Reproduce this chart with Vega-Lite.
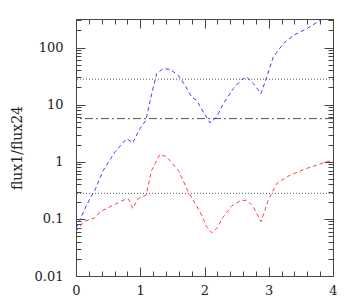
{
  "$schema": "https://vega.github.io/schema/vega-lite/v6.json",
  "width": 257,
  "height": 257,
  "autosize": "none",
  "padding": {"left": 76, "top": 19, "right": 18, "bottom": 27},
  "background": "white",
  "config": {
    "view": {"stroke": null},
    "axis": {
      "labelFont": "DejaVu Serif",
      "labelFontSize": 13,
      "labelColor": "#222",
      "titleFont": "DejaVu Serif",
      "titleFontSize": 14,
      "titleFontWeight": "normal",
      "titleColor": "#222",
      "domainColor": "#444",
      "tickColor": "#444",
      "grid": false,
      "labelOverlap": false,
      "labelFlush": false
    }
  },
  "datasets": {
    "curves": [
      {"s": "blue", "x": 0, "y": 0.068},
      {"s": "blue", "x": 0.06, "y": 0.095},
      {"s": "blue", "x": 0.14, "y": 0.152},
      {"s": "blue", "x": 0.218, "y": 0.228},
      {"s": "blue", "x": 0.296, "y": 0.32},
      {"s": "blue", "x": 0.425, "y": 0.71},
      {"s": "blue", "x": 0.607, "y": 1.49},
      {"s": "blue", "x": 0.789, "y": 2.55},
      {"s": "blue", "x": 0.882, "y": 2.14},
      {"s": "blue", "x": 0.996, "y": 3.82},
      {"s": "blue", "x": 1.089, "y": 5.34},
      {"s": "blue", "x": 1.178, "y": 15.6},
      {"s": "blue", "x": 1.256, "y": 35},
      {"s": "blue", "x": 1.359, "y": 42.8},
      {"s": "blue", "x": 1.463, "y": 41.6},
      {"s": "blue", "x": 1.592, "y": 32.7},
      {"s": "blue", "x": 1.697, "y": 21.8},
      {"s": "blue", "x": 1.801, "y": 13.6},
      {"s": "blue", "x": 1.879, "y": 11.9},
      {"s": "blue", "x": 1.981, "y": 7.45},
      {"s": "blue", "x": 2.086, "y": 4.79},
      {"s": "blue", "x": 2.19, "y": 6.1},
      {"s": "blue", "x": 2.293, "y": 10.4},
      {"s": "blue", "x": 2.448, "y": 19.1},
      {"s": "blue", "x": 2.579, "y": 27.5},
      {"s": "blue", "x": 2.657, "y": 30.5},
      {"s": "blue", "x": 2.76, "y": 23.4},
      {"s": "blue", "x": 2.879, "y": 15.6},
      {"s": "blue", "x": 2.968, "y": 30.5},
      {"s": "blue", "x": 3.071, "y": 68.2},
      {"s": "blue", "x": 3.226, "y": 117},
      {"s": "blue", "x": 3.382, "y": 163},
      {"s": "blue", "x": 3.591, "y": 214},
      {"s": "blue", "x": 3.798, "y": 299},
      {"s": "blue", "x": 4.0, "y": 390},
      {"s": "red", "x": 0, "y": 0.06},
      {"s": "red", "x": 0.114, "y": 0.089},
      {"s": "red", "x": 0.218, "y": 0.098},
      {"s": "red", "x": 0.296, "y": 0.104},
      {"s": "red", "x": 0.374, "y": 0.133},
      {"s": "red", "x": 0.581, "y": 0.174},
      {"s": "red", "x": 0.736, "y": 0.213},
      {"s": "red", "x": 0.82, "y": 0.222},
      {"s": "red", "x": 0.882, "y": 0.152},
      {"s": "red", "x": 0.97, "y": 0.228},
      {"s": "red", "x": 1.089, "y": 0.26},
      {"s": "red", "x": 1.178, "y": 0.71},
      {"s": "red", "x": 1.307, "y": 1.36},
      {"s": "red", "x": 1.411, "y": 1.22},
      {"s": "red", "x": 1.592, "y": 0.71},
      {"s": "red", "x": 1.748, "y": 0.298},
      {"s": "red", "x": 1.93, "y": 0.133},
      {"s": "red", "x": 2.034, "y": 0.073},
      {"s": "red", "x": 2.112, "y": 0.057},
      {"s": "red", "x": 2.19, "y": 0.068},
      {"s": "red", "x": 2.293, "y": 0.109},
      {"s": "red", "x": 2.423, "y": 0.167},
      {"s": "red", "x": 2.553, "y": 0.207},
      {"s": "red", "x": 2.657, "y": 0.213},
      {"s": "red", "x": 2.76, "y": 0.163},
      {"s": "red", "x": 2.879, "y": 0.089},
      {"s": "red", "x": 2.993, "y": 0.213},
      {"s": "red", "x": 3.124, "y": 0.418},
      {"s": "red", "x": 3.331, "y": 0.583},
      {"s": "red", "x": 3.591, "y": 0.764},
      {"s": "red", "x": 3.849, "y": 0.957},
      {"s": "red", "x": 4.0, "y": 1.07}
    ],
    "hlines": [
      {"y": 28, "style": "dot"},
      {"y": 5.7, "style": "dashdot"},
      {"y": 0.28, "style": "dot"}
    ]
  },
  "resolve": {"axis": {"x": "independent", "y": "independent"}},
  "layer": [
    {
      "data": {"name": "hlines"},
      "mark": {"type": "rule", "color": "#555", "strokeWidth": 1},
      "encoding": {
        "y": {"field": "y", "type": "quantitative", "axis": null,
              "scale": {"type": "log", "domain": [0.01, 316], "nice": false}},
        "strokeDash": {"field": "style", "type": "nominal", "legend": null,
              "scale": {"domain": ["dot", "dashdot"], "range": [[1, 2], [8, 3, 2, 3]]}}
      }
    },
    {
      "data": {"name": "curves"},
      "mark": {"type": "line", "strokeWidth": 1, "strokeDash": [4, 3], "clip": true},
      "encoding": {
        "x": {"field": "x", "type": "quantitative",
              "scale": {"domain": [0, 4], "nice": false, "zero": false},
              "axis": {"orient": "bottom", "title": null, "format": "d",
                       "values": [0, 1, 2, 3, 4], "tickSize": -9, "labelPadding": 17}},
        "y": {"field": "y", "type": "quantitative",
              "scale": {"type": "log", "domain": [0.01, 316], "nice": false},
              "axis": {"orient": "left", "title": "flux1/flux24", "format": "~g",
                       "values": [0.01, 0.1, 1, 10, 100], "tickSize": -9,
                       "labelPadding": 22, "titlePadding": 10}},
        "color": {"field": "s", "type": "nominal", "legend": null,
                  "scale": {"domain": ["blue", "red"], "range": ["#4040ff", "#ff4040"]}}
      }
    },
    {
      "data": {"name": "curves"},
      "mark": {"type": "point", "opacity": 0},
      "encoding": {
        "x": {"field": "x", "type": "quantitative",
              "axis": {"orient": "bottom", "title": null, "labels": false, "domain": false,
                       "values": [0.2,0.4,0.6,0.8,1.2,1.4,1.6,1.8,2.2,2.4,2.6,2.8,3.2,3.4,3.6,3.8],
                       "tickSize": -5}},
        "y": {"field": "y", "type": "quantitative",
              "axis": {"orient": "left", "title": null, "labels": false, "domain": false,
                       "values": [0.02,0.03,0.04,0.05,0.06,0.07,0.08,0.09,0.2,0.3,0.4,0.5,0.6,0.7,0.8,0.9,2,3,4,5,6,7,8,9,20,30,40,50,60,70,80,90,200,300],
                       "tickSize": -5}}
      }
    },
    {
      "data": {"name": "curves"},
      "mark": {"type": "point", "opacity": 0},
      "encoding": {
        "x": {"field": "x", "type": "quantitative",
              "axis": {"orient": "top", "title": null, "labels": false,
                       "values": [0, 1, 2, 3, 4], "tickSize": -9}},
        "y": {"field": "y", "type": "quantitative",
              "axis": {"orient": "right", "title": null, "labels": false,
                       "values": [0.01, 0.1, 1, 10, 100], "tickSize": -9}}
      }
    },
    {
      "data": {"name": "curves"},
      "mark": {"type": "point", "opacity": 0},
      "encoding": {
        "x": {"field": "x", "type": "quantitative",
              "axis": {"orient": "top", "title": null, "labels": false, "domain": false,
                       "values": [0.2,0.4,0.6,0.8,1.2,1.4,1.6,1.8,2.2,2.4,2.6,2.8,3.2,3.4,3.6,3.8],
                       "tickSize": -5}},
        "y": {"field": "y", "type": "quantitative",
              "axis": {"orient": "right", "title": null, "labels": false, "domain": false,
                       "values": [0.02,0.03,0.04,0.05,0.06,0.07,0.08,0.09,0.2,0.3,0.4,0.5,0.6,0.7,0.8,0.9,2,3,4,5,6,7,8,9,20,30,40,50,60,70,80,90,200,300],
                       "tickSize": -5}}
      }
    }
  ]
}
